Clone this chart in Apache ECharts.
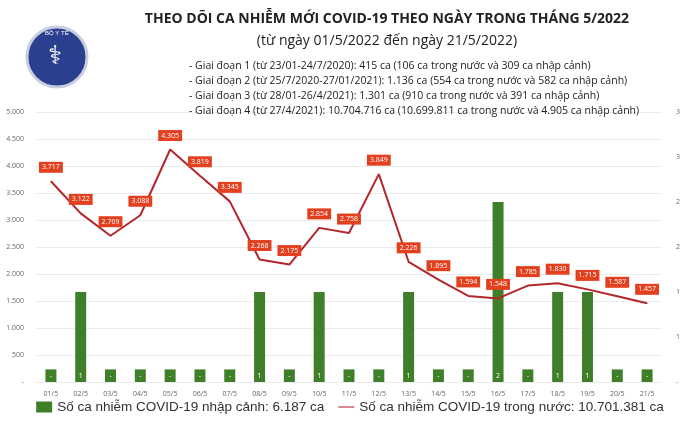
<!DOCTYPE html>
<html>
<head>
<meta charset="utf-8">
<script src="https://cdn.jsdelivr.net/npm/echarts@6/dist/echarts.min.js"></script>
<style>
    html, body {margin: 0; padding: 0; background: #fff;}
    #main {width: 700px; height: 422px;}
</style>
</head>
<body>
<div id="main"></div>
<script>
var days = ['01/5', '02/5', '03/5', '04/5', '05/5', '06/5', '07/5', '08/5', '09/5', '10/5', '11/5',
    '12/5', '13/5', '14/5', '15/5', '16/5', '17/5', '18/5', '19/5', '20/5', '21/5'];
// ca nhap canh (truc phai)
var importedCases = [0, 1, 0, 0, 0, 0, 0, 1, 0, 1, 0, 0, 1, 0, 0, 2, 0, 1, 1, 0, 0];
// ca trong nuoc (truc trai)
var domesticCases = [3717, 3122, 2709, 3088, 4305, 3819, 3345, 2268, 2175, 2854, 2758,
    3849, 2226, 1895, 1594, 1548, 1785, 1830, 1715, 1587, 1457];
var leftTicks = ['-', '500', '1.000', '1.500', '2.000', '2.500', '3.000', '3.500', '4.000', '4.500', '5.000'];
var rightTicks = ['-', '1', '1', '2', '2', '3', '3'];

var infoLines = [
    '- Giai đoạn 1 (từ 23/01-24/7/2020): 415 ca (106 ca trong nước và 309 ca nhập cảnh)',
    '- Giai đoạn 2 (từ 25/7/2020-27/01/2021): 1.136 ca (554 ca trong nước và 582 ca nhập cảnh)',
    '- Giai đoạn 3 (từ 28/01-26/4/2021): 1.301 ca (910 ca trong nước và 391 ca nhập cảnh)',
    '- Giai đoạn 4 (từ 27/4/2021): 10.704.716 ca (10.699.811 ca trong nước và 4.905 ca nhập cảnh)'
];

function fmtNum(v) {
    return String(v).replace(/\B(?=(\d{3})+(?!\d))/g, '.');
}

var myChart = echarts.init(document.getElementById('main'));

// cot = 0 van ve mot doan ngan, nhan "-"
var barData = importedCases.map(function (v) {
    return {value: v === 0 ? 0.14 : v, real: v};
});

var option = {
    backgroundColor: '#fff',
    textStyle: {fontFamily: 'Open Sans'},
    title: [
        {
            text: 'THEO DÕI CA NHIỄM MỚI COVID-19 THEO NGÀY TRONG THÁNG 5/2022',
            left: 382, top: 7, textAlign: 'center',
            textStyle: {fontSize: 14, fontWeight: 'bold', color: '#222'}
        },
        {
            text: '(từ ngày 01/5/2022 đến ngày 21/5/2022)',
            left: 382, top: 29, textAlign: 'center',
            textStyle: {fontSize: 14, fontWeight: 'normal', color: '#222'}
        },
        {
            text: infoLines.join('\n'),
            left: 184, top: 54,
            textStyle: {fontSize: 10.5, fontWeight: 'normal', color: '#222', lineHeight: 15}
        }
    ],
    graphic: [
        {type: 'circle', shape: {cx: 57, cy: 57, r: 30}, style: {fill: '#2b3f8f', stroke: '#c9cde0', lineWidth: 3}},
        {type: 'text', left: 48, top: 44, style: {text: '⚕', fontSize: 26, fill: '#fff'}},
        {type: 'text', left: 45, top: 30, style: {text: 'BỘ Y TẾ', fontSize: 6, fill: '#fff'}}
    ],
    legend: {
        bottom: 3, left: 'center', width: 700, itemGap: 14,
        textStyle: {fontSize: 13.5, color: '#333', fontFamily: 'Liberation Sans'},
        data: [
            {name: 'Số ca nhiễm COVID-19 nhập cảnh: 6.187 ca', icon: 'rect'},
            {name: 'Số ca nhiễm COVID-19 trong nước: 10.701.381 ca', icon: 'path://M0,4 L30,4 L30,6 L0,6 Z'}
        ],
        itemWidth: 16, itemHeight: 11
    },
    grid: {left: 36, right: 38, top: 112, bottom: 40},
    xAxis: {
        type: 'category', data: days,
        axisLine: {show: false}, axisTick: {show: false},
        axisLabel: {fontSize: 7, color: '#666', margin: 8}
    },
    yAxis: [
        {
            type: 'value', min: 0, max: 5000, interval: 500,
            axisLabel: {
                fontSize: 7, color: '#666', margin: 12,
                formatter: function (v) { return leftTicks[Math.round(v / 500)]; }
            },
            splitLine: {lineStyle: {color: '#ececec'}}
        },
        {
            type: 'value', min: 0, max: 3, interval: 0.5,
            axisLabel: {
                fontSize: 7, color: '#666', margin: 14,
                formatter: function (v) { return rightTicks[Math.round(v * 2)]; }
            },
            splitLine: {show: false}
        }
    ],
    series: [
        {
            name: 'Số ca nhiễm COVID-19 nhập cảnh: 6.187 ca',
            type: 'bar', yAxisIndex: 1, barWidth: 11,
            itemStyle: {color: '#3f7f2a'},
            data: barData,
            label: {
                show: true, position: 'insideBottom', distance: 3,
                fontSize: 7, color: '#fff',
                formatter: function (p) { return p.data.real === 0 ? '-' : p.data.real; }
            }
        },
        {
            name: 'Số ca nhiễm COVID-19 trong nước: 10.701.381 ca',
            type: 'line', yAxisIndex: 0, symbol: 'circle', symbolSize: 1, showSymbol: true,
            lineStyle: {color: '#b3262b', width: 2},
            itemStyle: {color: '#b3262b'},
            data: domesticCases,
            label: {
                show: true, position: 'top', distance: 8,
                fontSize: 7, color: '#fff', backgroundColor: '#e2401f',
                padding: [2, 3],
                formatter: function (p) { return fmtNum(p.value); }
            }
        }
    ]
};
myChart.setOption(option);
</script>
</body>
</html>
